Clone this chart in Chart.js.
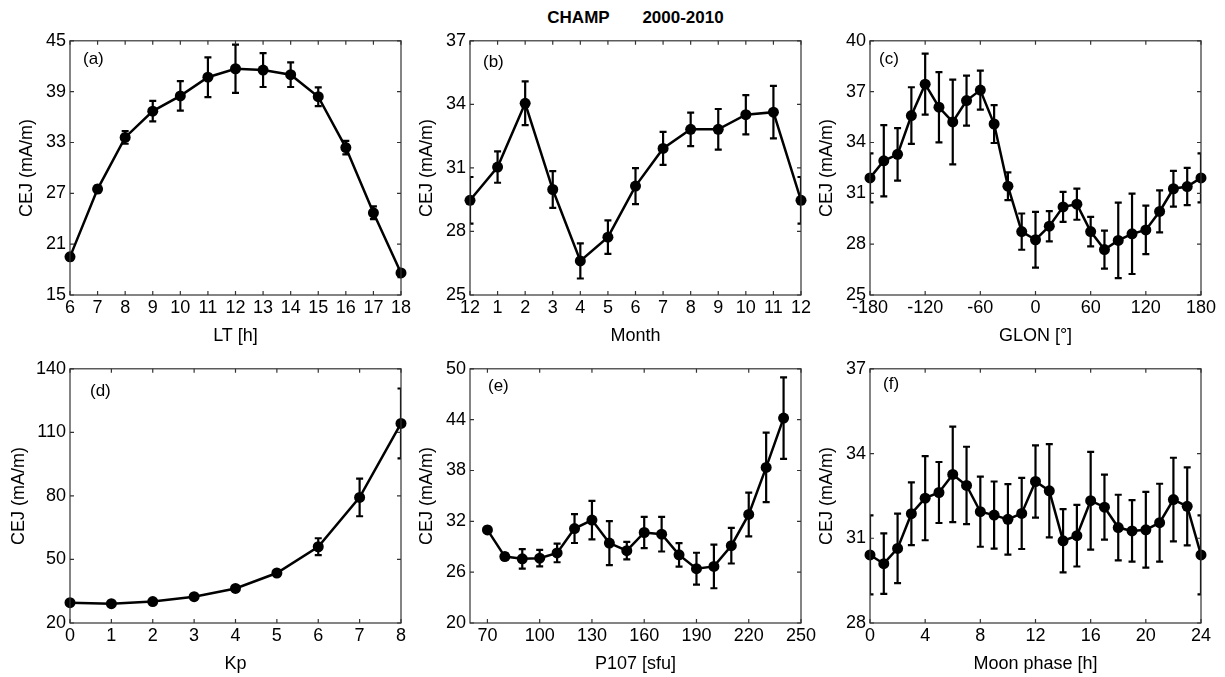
<!DOCTYPE html>
<html>
<head>
<meta charset="UTF-8">
<title>CHAMP CEJ 2000-2010</title>
<script src="https://cdn.jsdelivr.net/npm/chart.js"></script>
<style>
  body { margin: 0; background: #fff; width: 1225px; height: 677px; position: relative; overflow: hidden;
         font-family: "Liberation Sans", Arial, sans-serif; }
  canvas { position: absolute; }
  #title { position: absolute; left: 470px; width: 331px; top: 8px; line-height: 20px; text-align: center;
           font-weight: bold; font-size: 17px; white-space: pre; color: #000; }
</style>
</head>
<body>
<div id="title">CHAMP       2000-2010</div>

<script>
// (a) local time
const ltHours = [6, 7, 8, 9, 10, 11, 12, 13, 14, 15, 16, 17, 18];
const ltCej   = [19.5, 27.5, 33.6, 36.7, 38.5, 40.7, 41.7, 41.55, 41.0, 38.4, 32.4, 24.7, 17.6];
const ltErr   = [0.4, 0.4, 0.75, 1.2, 1.75, 2.35, 2.85, 2.0, 1.45, 1.1, 0.8, 0.75, 0.5];
const ltTicksX = [6, 7, 8, 9, 10, 11, 12, 13, 14, 15, 16, 17, 18];
const ltTicksY = [15, 21, 27, 33, 39, 45];

// (b) month (Dec repeated at both ends)
const monthPos    = [0, 1, 2, 3, 4, 5, 6, 7, 8, 9, 10, 11, 12];
const monthLabels = ['12', '1', '2', '3', '4', '5', '6', '7', '8', '9', '10', '11', '12'];
const monthCej    = [29.47, 31.04, 34.05, 29.98, 26.61, 27.73, 30.14, 31.92, 32.82, 32.82, 33.51, 33.63, 29.47];
const monthErr    = [1.1, 0.74, 1.03, 0.87, 0.83, 0.79, 0.85, 0.78, 0.79, 0.96, 0.93, 1.24, 1.1];
const monthTicksY = [25, 28, 31, 34, 37];

// (c) geographic longitude
const glon    = [-180, -165, -150, -135, -120, -105, -90, -75, -60, -45, -30, -15, 0,
                 15, 30, 45, 60, 75, 90, 105, 120, 135, 150, 165, 180];
const glonCej = [31.91, 32.92, 33.3, 35.59, 37.44, 36.08, 35.21, 36.47, 37.09, 35.09, 31.42, 28.74, 28.26,
                 29.06, 30.2, 30.36, 28.74, 27.68, 28.22, 28.61, 28.84, 29.93, 31.27, 31.4, 31.91];
const glonErr = [1.45, 2.1, 1.55, 1.67, 1.8, 2.07, 2.5, 1.47, 1.15, 1.12, 0.82, 1.07, 1.65,
                 0.89, 0.89, 0.92, 0.87, 1.12, 2.23, 2.37, 1.43, 1.24, 1.05, 1.1, 1.45];
const glonTicksX = [-180, -120, -60, 0, 60, 120, 180];
const glonTicksY = [25, 28, 31, 34, 37, 40];

// (d) Kp
const kp      = [0, 1, 2, 3, 4, 5, 6, 7, 8];
const kpCej   = [29.6, 29.1, 30.1, 32.4, 36.3, 43.6, 56.0, 79.3, 114.2];
const kpErr   = [0.6, 0.6, 0.6, 0.8, 1.0, 1.3, 4.0, 8.9, 16.5];
const kpTicksX = [0, 1, 2, 3, 4, 5, 6, 7, 8];
const kpTicksY = [20, 50, 80, 110, 140];

// (e) P107
const p107    = [70, 80, 90, 100, 110, 120, 130, 140, 150, 160, 170, 180, 190, 200, 210, 220, 230, 240];
const p107Cej = [30.99, 27.84, 27.57, 27.65, 28.27, 31.14, 32.15, 29.43, 28.54, 30.68, 30.48, 28.04,
                 26.41, 26.68, 29.12, 32.81, 38.36, 44.18];
const p107Err = [0.35, 0.4, 1.15, 0.97, 1.1, 1.7, 2.27, 2.6, 1.03, 1.84, 2.04, 1.38, 1.88, 2.58, 2.1, 2.58, 4.1, 4.8];
const p107TicksX = [70, 100, 130, 160, 190, 220, 250];
const p107TicksY = [20, 26, 32, 38, 44, 50];

// (f) moon phase
const moon    = [0, 1, 2, 3, 4, 5, 6, 7, 8, 9, 10, 11, 12, 13, 14, 15, 16, 17, 18, 19, 20, 21, 22, 23, 24];
const moonCej = [30.41, 30.1, 30.64, 31.87, 32.42, 32.62, 33.26, 32.87, 31.94, 31.82, 31.67, 31.88, 33.01,
                 32.68, 30.91, 31.09, 32.33, 32.1, 31.38, 31.26, 31.3, 31.55, 32.37, 32.13, 30.41];
const moonErr = [1.4, 1.07, 1.23, 1.11, 1.49, 1.08, 1.69, 1.37, 1.24, 1.19, 1.25, 1.26, 1.28,
                 1.65, 1.12, 1.09, 1.73, 1.15, 1.16, 1.09, 1.34, 1.38, 1.48, 1.38, 1.4];
const moonTicksX = [0, 4, 8, 12, 16, 20, 24];
const moonTicksY = [28, 31, 34, 37];

const FONT = '"Liberation Sans", Arial, sans-serif';
const PLOT_W = 331, PLOT_H = 257;
const Y_AXIS_W = 70, X_AXIS_H = 62, PAD_TOP = 12, PAD_RIGHT = 30;

// error bars drawn through the chart scales, clipped to the axes box like matlab
const errorBars = {
    id: 'errorBars',
    beforeDatasetsDraw(chart) {
        const { ctx, chartArea: a, scales: { x, y } } = chart;
        ctx.save();
        ctx.beginPath();
        ctx.rect(a.left, a.top, a.right - a.left, a.bottom - a.top);
        ctx.clip();
        ctx.strokeStyle = '#000';
        ctx.lineWidth = 2.2;
        chart.data.datasets.forEach(ds => {
            ds.data.forEach((p, i) => {
                const e = ds.errs[i];
                const px = x.getPixelForValue(p.x);
                const t = y.getPixelForValue(p.y + e);
                const b = y.getPixelForValue(p.y - e);
                ctx.beginPath();
                ctx.moveTo(px, t); ctx.lineTo(px, b);
                ctx.moveTo(px - 3.5, t); ctx.lineTo(px + 3.5, t);
                ctx.moveTo(px - 3.5, b); ctx.lineTo(px + 3.5, b);
                ctx.stroke();
            });
        });
        ctx.restore();
    }
};

// box with inward ticks on all four sides + panel letter
const frame = {
    id: 'frame',
    afterDraw(chart, args, opts) {
        const { ctx, chartArea: a, scales: { x, y } } = chart;
        ctx.save();
        ctx.strokeStyle = '#333';
        ctx.lineWidth = 1.2;
        ctx.strokeRect(a.left, a.top, a.right - a.left, a.bottom - a.top);
        const tl = 4;
        ctx.beginPath();
        x.ticks.forEach(t => {
            const px = x.getPixelForValue(t.value);
            ctx.moveTo(px, a.bottom); ctx.lineTo(px, a.bottom - tl);
            ctx.moveTo(px, a.top); ctx.lineTo(px, a.top + tl);
        });
        y.ticks.forEach(t => {
            const py = y.getPixelForValue(t.value);
            ctx.moveTo(a.left, py); ctx.lineTo(a.left + tl, py);
            ctx.moveTo(a.right, py); ctx.lineTo(a.right - tl, py);
        });
        ctx.stroke();
        ctx.fillStyle = '#000';
        ctx.font = '17px ' + FONT;
        ctx.textBaseline = 'middle';
        ctx.fillText(opts.label, a.left + opts.dx, a.top + opts.dy);
        ctx.restore();
    }
};

function panel(o) {
    const cv = document.createElement('canvas');
    cv.width = PLOT_W + Y_AXIS_W + PAD_RIGHT;
    cv.height = PLOT_H + PAD_TOP + X_AXIS_H;
    cv.style.left = (o.left - Y_AXIS_W) + 'px';
    cv.style.top = (o.top - PAD_TOP) + 'px';
    document.body.appendChild(cv);

    const tickFont = { family: FONT, size: 18 };
    new Chart(cv.getContext('2d'), {
        type: 'line',
        data: {
            datasets: [{
                data: o.xs.map((v, i) => ({ x: v, y: o.ys[i] })),
                errs: o.errs,
                borderColor: '#000',
                backgroundColor: '#000',
                borderWidth: 2.5,
                pointRadius: 5.5,
                pointHoverRadius: 5.5,
                pointBorderWidth: 0,
                pointBackgroundColor: '#000',
                tension: 0,
                clip: false
            }]
        },
        options: {
            responsive: false,
            animation: false,
            events: [],
            layout: { padding: { left: 0, top: PAD_TOP, right: PAD_RIGHT, bottom: 0 } },
            plugins: {
                legend: { display: false },
                tooltip: { enabled: false },
                frame: { label: o.label, dx: o.lx, dy: o.ly }
            },
            scales: {
                x: {
                    type: 'linear',
                    min: o.xmin, max: o.xmax,
                    grid: { display: false, drawTicks: false },
                    border: { display: false },
                    afterBuildTicks: s => { s.ticks = o.xticks.map(v => ({ value: v })); },
                    afterFit: s => { s.height = X_AXIS_H; },
                    ticks: {
                        font: tickFont, color: '#000', padding: 2, maxRotation: 0, autoSkip: false,
                        callback: (v, i) => o.xlabels ? o.xlabels[i] : String(v)
                    },
                    title: { display: true, text: o.xtitle, font: tickFont, color: '#000',
                             padding: { top: 0, bottom: 10 } }
                },
                y: {
                    type: 'linear',
                    min: o.yticks[0], max: o.yticks[o.yticks.length - 1],
                    grid: { display: false, drawTicks: false },
                    border: { display: false },
                    afterBuildTicks: s => { s.ticks = o.yticks.map(v => ({ value: v })); },
                    afterFit: s => { s.width = Y_AXIS_W; },
                    ticks: { font: tickFont, color: '#000', padding: 4, autoSkip: false },
                    title: { display: true, text: 'CEJ (mA/m)', font: tickFont, color: '#000',
                             padding: { top: o.ytpad, bottom: 0 } }
                }
            }
        },
        plugins: [errorBars, frame]
    });
}

panel({ left: 70, top: 38, xs: ltHours, ys: ltCej, errs: ltErr, xmin: 6, xmax: 18,
        xticks: ltTicksX, yticks: ltTicksY, xtitle: 'LT [h]', label: '(a)', lx: 13, ly: 19, ytpad: 16 });
panel({ left: 470, top: 38, xs: monthPos, ys: monthCej, errs: monthErr, xmin: 0, xmax: 12,
        xticks: monthPos, xlabels: monthLabels, yticks: monthTicksY, xtitle: 'Month',
        label: '(b)', lx: 13, ly: 22, ytpad: 16 });
panel({ left: 870, top: 38, xs: glon, ys: glonCej, errs: glonErr, xmin: -180, xmax: 180,
        xticks: glonTicksX, yticks: glonTicksY, xtitle: 'GLON [°]', label: '(c)', lx: 9, ly: 19, ytpad: 16 });
panel({ left: 70, top: 366, xs: kp, ys: kpCej, errs: kpErr, xmin: 0, xmax: 8,
        xticks: kpTicksX, yticks: kpTicksY, xtitle: 'Kp', label: '(d)', lx: 20, ly: 23, ytpad: 8 });
panel({ left: 470, top: 366, xs: p107, ys: p107Cej, errs: p107Err, xmin: 60, xmax: 250,
        xticks: p107TicksX, yticks: p107TicksY, xtitle: 'P107 [sfu]', label: '(e)', lx: 18, ly: 18, ytpad: 16 });
panel({ left: 870, top: 366, xs: moon, ys: moonCej, errs: moonErr, xmin: 0, xmax: 24,
        xticks: moonTicksX, yticks: moonTicksY, xtitle: 'Moon phase [h]', label: '(f)', lx: 13, ly: 16, ytpad: 16 });
</script>
</body>
</html>
